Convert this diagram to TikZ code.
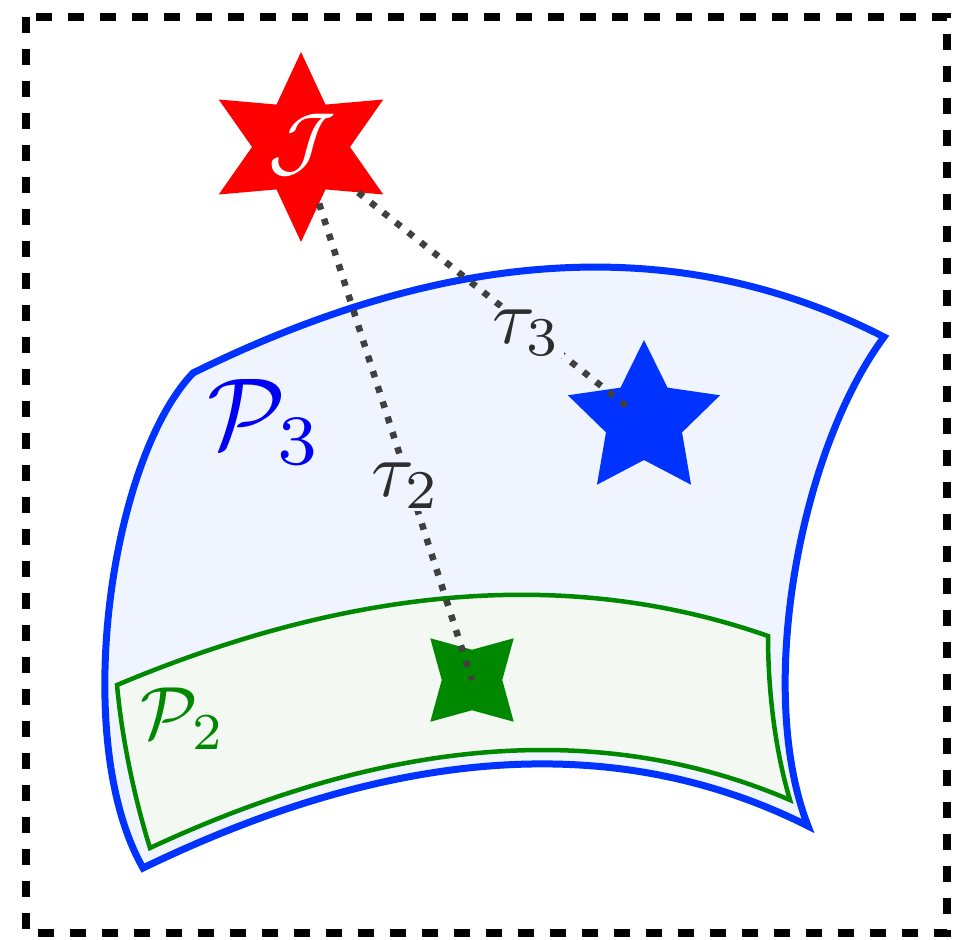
\documentclass[tikz,border=0pt]{standalone}
\usetikzlibrary{shapes.geometric}
\definecolor{bstroke}{RGB}{0,51,255}
\definecolor{bfill}{RGB}{239,244,255}
\definecolor{gstroke}{RGB}{0,136,0}
\definecolor{gfill}{RGB}{243,248,242}
\definecolor{ptext}{RGB}{0,0,245}
\definecolor{dotc}{RGB}{64,64,64}
\definecolor{labc}{RGB}{45,45,45}
\tikzset{
  frameline/.style={line width=7.5pt, dash pattern=on 16pt off 16pt},
  bluereg/.style={draw=bstroke, line width=7pt, fill=bfill, line join=miter},
  greenreg/.style={draw=gstroke, line width=4.5pt, fill=gfill, line join=miter},
  tau/.style={draw=dotc, line width=6.5pt, dash pattern=on 6.5pt off 9.5pt},
  lab/.style={fill=bfill, text=labc, inner sep=0.3pt, scale=7.8},
  starnode/.style={star, inner sep=0pt, draw=none}
}
\begin{document}
\begin{tikzpicture}[x=1pt,y=-1pt]
\useasboundingbox[fill=white] (0,0) rectangle (955,939);
\draw[frameline] (26,17) rectangle (947,933);
% P3 region
\draw[bluereg] (193,373) .. controls (452,245) and (682,233) .. (884,337)
  .. controls (800,450) and (755,690) .. (808,826)
  .. controls (619,731) and (397,745) .. (143,868)
  .. controls (70,740) and (110,460) .. cycle;
% P2 region
\draw[greenreg] (117,685) .. controls (357,584) and (574,568) .. (768,636)
  .. controls (768,690) and (775,750) .. (790,800)
  .. controls (603,720) and (390,736) .. (150,848)
  .. controls (135,800) and (122,740) .. cycle;
% stars
\node[starnode, star points=5, star point ratio=2, minimum size=160pt, fill=bstroke] (B) at (644,420) {};
\node[starnode, star points=4, star point ratio=1.95, minimum size=118pt, shape border rotate=45, fill=gstroke] (G) at (472,680) {};
\node[starnode, star points=6, star point ratio=1.94, minimum size=190pt, fill=red] (J) at (301,147) {};
% connectors
\draw[tau] (J) -- (G.center);
\draw[tau, shorten >=15pt] (J) -- (B.center);
% labels
\node[lab] (t3) at (527,333) {$\tau_3$};
\node[lab] (t2) at (406,486) {$\tau_2$};
\node[text=ptext, scale=10.1] (P3) at (265,422) {$\mathcal{P}_3$};
\node[text=gstroke, scale=7.4] (P2) at (183,719) {$\mathcal{P}_2$};
\node[text=white, scale=7.8] (Jt) at (302,145) {$\mathcal{J}$};
\end{tikzpicture}
\end{document}
